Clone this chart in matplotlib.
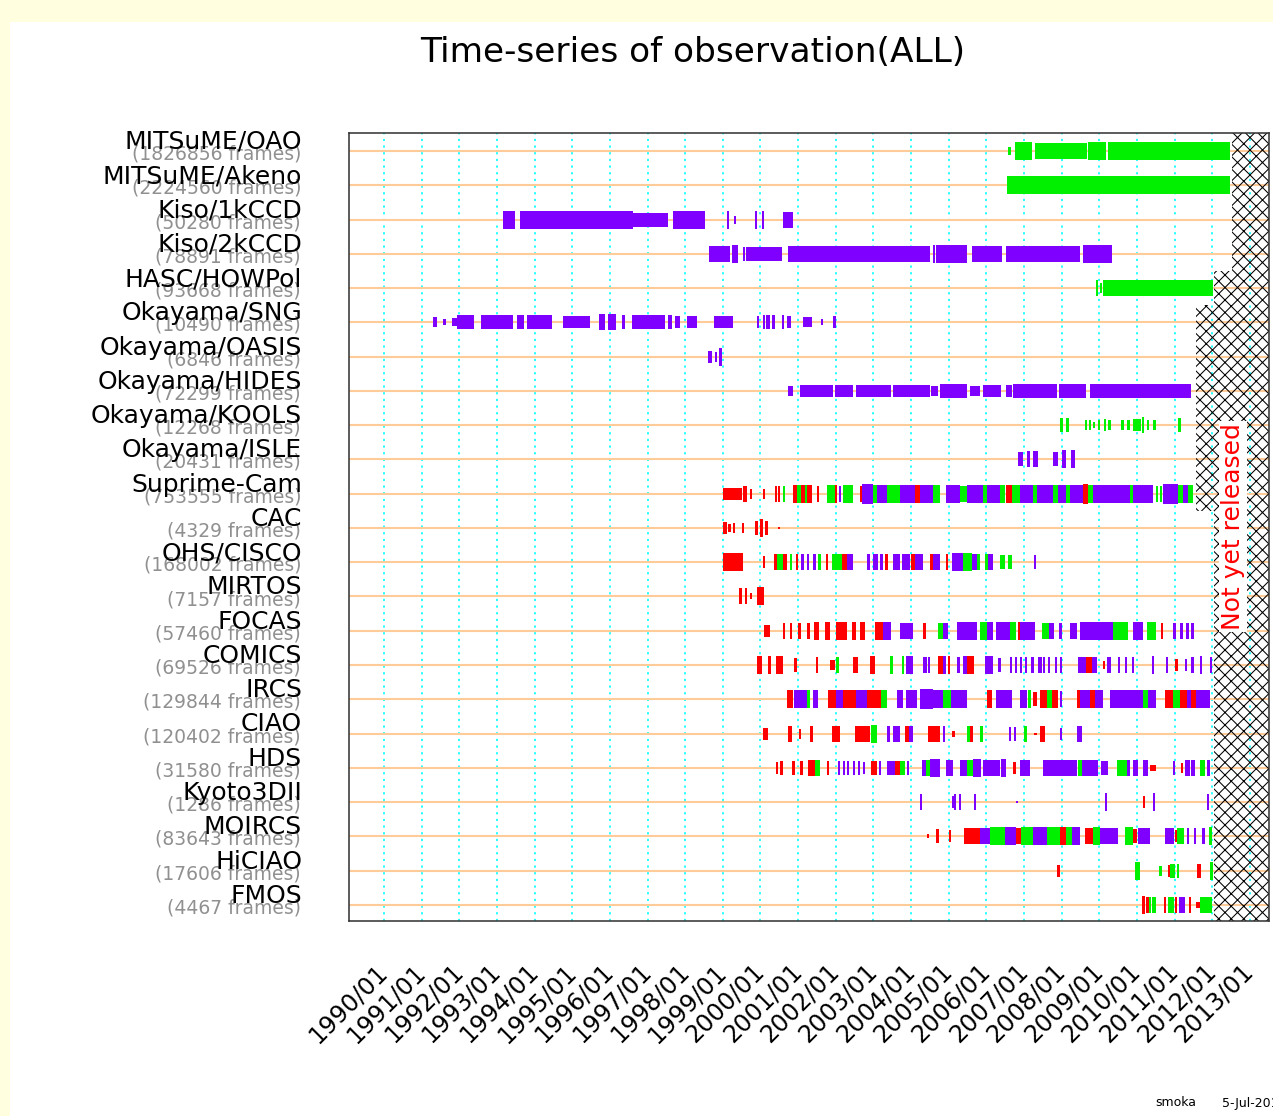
import matplotlib
matplotlib.use("Agg")
import matplotlib.pyplot as plt
import matplotlib.transforms as mtransforms
from matplotlib.patches import Rectangle

plt.rcParams['hatch.linewidth'] = 1.0

# instrument names (top to bottom) and frame counts
instruments = ['MITSuME/OAO', 'MITSuME/Akeno', 'Kiso/1kCCD', 'Kiso/2kCCD', 'HASC/HOWPol',
               'Okayama/SNG', 'Okayama/OASIS', 'Okayama/HIDES', 'Okayama/KOOLS', 'Okayama/ISLE',
               'Suprime-Cam', 'CAC', 'OHS/CISCO', 'MIRTOS', 'FOCAS', 'COMICS', 'IRCS', 'CIAO',
               'HDS', 'Kyoto3DII', 'MOIRCS', 'HiCIAO', 'FMOS']
frames = [1826856, 2224560, 50280, 78891, 93668, 10490, 6846, 72299, 12268, 20431,
          753555, 4329, 168002, 7157, 57460, 69526, 129844, 120402, 31580, 1286,
          83643, 17606, 4467]

# observation periods: (start year, end year, colour code, relative size 0-10)
mitsume_oao = [(2006.57, 2006.65, 'g', 4), (2006.76, 2007.21, 'g', 9), (2007.29, 2008.67, 'g', 8),
               (2008.70, 2009.18, 'g', 9), (2009.23, 2012.47, 'g', 9)]
mitsume_akeno = [(2006.55, 2012.47, 'g', 9)]
kiso_1k = [(1993.17, 1993.48, 'p', 9), (1993.61, 1996.62, 'p', 9), (1996.62, 1997.55, 'p', 7),
           (1997.67, 1998.53, 'p', 9), (1999.10, 1999.10, 'p', 9), (1999.30, 1999.30, 'p', 4),
           (1999.85, 1999.85, 'p', 9), (2000.03, 2000.08, 'p', 9), (2000.59, 2000.87, 'p', 8)]
kiso_2k = [(1998.64, 1999.19, 'p', 8), (1999.24, 1999.41, 'p', 9), (1999.53, 1999.53, 'p', 7),
           (1999.61, 2000.56, 'p', 7), (2000.74, 2001.47, 'p', 8), (2001.47, 2004.50, 'p', 8),
           (2004.58, 2004.58, 'p', 9), (2004.66, 2005.48, 'p', 9), (2005.61, 2006.41, 'p', 8),
           (2006.52, 2008.49, 'p', 8), (2008.56, 2009.34, 'p', 9)]
hasc_howpol = [(2008.91, 2008.96, 'g', 8), (2009.02, 2009.02, 'g', 5), (2009.11, 2012.03, 'g', 8)]
okayama_sng = [(1991.29, 1991.42, 'p', 5), (1991.58, 1991.58, 'p', 3), (1991.80, 1991.93, 'p', 4),
               (1991.93, 1992.39, 'p', 7), (1992.58, 1993.43, 'p', 7), (1993.52, 1993.72, 'p', 7),
               (1993.81, 1994.45, 'p', 7), (1994.75, 1995.47, 'p', 6), (1995.72, 1995.87, 'p', 8),
               (1995.96, 1996.16, 'p', 8), (1996.31, 1996.40, 'p', 7), (1996.59, 1997.47, 'p', 7),
               (1997.55, 1997.64, 'p', 7), (1997.73, 1997.86, 'p', 6), (1998.04, 1998.31, 'p', 6),
               (1998.77, 1999.28, 'p', 6), (1999.92, 1999.97, 'p', 6), (2000.07, 2000.07, 'p', 7),
               (2000.15, 2000.25, 'p', 7), (2000.30, 2000.39, 'p', 7), (2000.56, 2000.62, 'p', 7),
               (2000.70, 2000.80, 'p', 6), (2001.12, 2001.36, 'p', 5), (2001.60, 2001.66, 'p', 3),
               (2001.92, 2002.02, 'p', 6)]
okayama_oasis = [(1998.61, 1998.70, 'p', 6), (1998.79, 1998.79, 'p', 5), (1998.90, 1998.98, 'p', 9)]
okayama_hides = [(2000.74, 2000.87, 'p', 5), (2001.05, 2001.93, 'p', 6), (2001.98, 2002.46, 'p', 6),
                 (2002.55, 2003.48, 'p', 6), (2003.53, 2004.50, 'p', 6), (2004.54, 2004.72, 'p', 5),
                 (2004.77, 2005.48, 'p', 7), (2005.56, 2005.83, 'p', 5), (2005.90, 2006.40, 'p', 6),
                 (2006.52, 2006.67, 'p', 6), (2006.71, 2007.87, 'p', 7), (2007.94, 2008.66, 'p', 7),
                 (2008.75, 2011.45, 'p', 7)]
okayama_kools = [(2007.97, 2008.00, 'g', 7), (2008.13, 2008.16, 'g', 7), (2008.62, 2008.66, 'g', 5),
                 (2008.72, 2008.75, 'g', 5), (2008.84, 2008.88, 'g', 3), (2008.97, 2009.02, 'g', 5),
                 (2009.12, 2009.16, 'g', 6), (2009.24, 2009.30, 'g', 5), (2009.59, 2009.66, 'g', 5),
                 (2009.74, 2009.81, 'g', 5), (2009.90, 2010.10, 'g', 6), (2010.13, 2010.18, 'g', 8),
                 (2010.26, 2010.32, 'g', 5), (2010.42, 2010.51, 'g', 5), (2011.10, 2011.16, 'g', 7)]
okayama_isle = [(2006.85, 2006.98, 'p', 7), (2007.09, 2007.16, 'p', 8), (2007.23, 2007.38, 'p', 8),
                (2007.76, 2007.91, 'p', 7), (2008.02, 2008.13, 'p', 9), (2008.26, 2008.35, 'p', 9)]
suprime_cam = [(1999.00, 1999.50, 'r', 6), (1999.54, 1999.63, 'r', 8), (1999.72, 1999.72, 'r', 5),
               (2000.07, 2000.07, 'r', 5), (2000.39, 2000.39, 'r', 8), (2000.47, 2000.47, 'r', 8),
               (2000.59, 2000.59, 'g', 8), (2000.87, 2000.98, 'r', 9), (2000.98, 2001.09, 'g', 9),
               (2001.09, 2001.18, 'r', 9), (2001.18, 2001.24, 'g', 9), (2001.24, 2001.36, 'r', 9),
               (2001.49, 2001.49, 'r', 8), (2001.76, 2001.98, 'g', 9), (2001.98, 2002.04, 'r', 9),
               (2002.09, 2002.09, 'p', 8), (2002.20, 2002.46, 'g', 9), (2002.64, 2002.64, 'r', 8),
               (2002.69, 2003.00, 'p', 10), (2003.00, 2003.09, 'g', 9), (2003.09, 2003.35, 'p', 9),
               (2003.35, 2003.70, 'g', 9), (2003.70, 2004.10, 'p', 9), (2004.10, 2004.24, 'r', 9),
               (2004.24, 2004.59, 'p', 9), (2004.59, 2004.77, 'g', 9), (2004.94, 2005.30, 'p', 9),
               (2005.30, 2005.48, 'g', 8), (2005.48, 2005.92, 'p', 9), (2005.92, 2006.01, 'g', 9),
               (2006.01, 2006.36, 'p', 9), (2006.36, 2006.49, 'g', 9), (2006.53, 2006.67, 'r', 9),
               (2006.67, 2006.89, 'g', 9), (2006.89, 2007.25, 'p', 9), (2007.25, 2007.34, 'g', 9),
               (2007.34, 2007.78, 'p', 9), (2007.78, 2007.91, 'g', 9), (2007.91, 2008.13, 'p', 9),
               (2008.13, 2008.22, 'g', 9), (2008.22, 2008.57, 'p', 9), (2008.57, 2008.71, 'r', 10),
               (2008.71, 2008.84, 'g', 9), (2008.84, 2009.81, 'p', 9), (2009.81, 2009.90, 'g', 9),
               (2009.90, 2010.43, 'p', 9), (2010.50, 2010.50, 'g', 8), (2010.62, 2010.62, 'g', 8),
               (2010.70, 2011.10, 'p', 10), (2011.10, 2011.23, 'g', 9), (2011.23, 2011.36, 'p', 9),
               (2011.36, 2011.50, 'g', 9)]
cac = [(1999.00, 1999.10, 'r', 6), (1999.15, 1999.23, 'r', 4), (1999.28, 1999.32, 'r', 5),
       (1999.52, 1999.52, 'r', 5), (1999.85, 1999.94, 'r', 7), (1999.99, 2000.07, 'r', 9),
       (2000.12, 2000.21, 'r', 7), (2000.47, 2000.51, 'r', 1)]
ohs_cisco = [(1999.00, 1999.54, 'r', 9), (2000.07, 2000.13, 'r', 6), (2000.36, 2000.45, 'r', 8),
             (2000.45, 2000.59, 'g', 8), (2000.61, 2000.71, 'r', 8), (2000.78, 2000.78, 'g', 8),
             (2000.94, 2001.00, 'r', 8), (2001.09, 2001.09, 'p', 8), (2001.23, 2001.23, 'p', 8),
             (2001.40, 2001.47, 'p', 8), (2001.53, 2001.62, 'g', 8), (2001.74, 2001.80, 'r', 8),
             (2001.89, 2002.16, 'g', 8), (2002.16, 2002.29, 'r', 8), (2002.29, 2002.46, 'p', 8),
             (2002.82, 2002.91, 'p', 8), (2003.00, 2003.13, 'p', 8), (2003.17, 2003.26, 'p', 8),
             (2003.31, 2003.40, 'r', 8), (2003.53, 2003.70, 'p', 8), (2003.75, 2003.97, 'p', 8),
             (2004.01, 2004.10, 'r', 8), (2004.10, 2004.32, 'p', 8), (2004.50, 2004.59, 'r', 8),
             (2004.59, 2004.77, 'p', 8), (2004.94, 2004.99, 'r', 8), (2005.08, 2005.39, 'p', 9),
             (2005.39, 2005.61, 'g', 9), (2005.61, 2005.74, 'p', 8), (2005.74, 2005.83, 'g', 8),
             (2005.96, 2006.05, 'g', 8), (2006.05, 2006.18, 'p', 8), (2006.36, 2006.49, 'g', 7),
             (2006.58, 2006.67, 'g', 7), (2007.27, 2007.27, 'p', 7)]
mirtos = [(1999.44, 1999.50, 'r', 8), (1999.59, 1999.63, 'r', 8), (1999.72, 1999.72, 'r', 3),
          (1999.90, 2000.09, 'r', 9)]
focas = [(2000.09, 2000.25, 'r', 6), (2000.61, 2000.66, 'r', 8), (2000.78, 2000.84, 'r', 8),
         (2001.00, 2001.07, 'r', 8), (2001.23, 2001.32, 'r', 8), (2001.43, 2001.55, 'r', 9),
         (2001.71, 2001.86, 'r', 9), (2002.02, 2002.29, 'r', 9), (2002.42, 2002.55, 'r', 9),
         (2002.64, 2002.77, 'r', 9), (2003.04, 2003.26, 'r', 9), (2003.26, 2003.48, 'p', 9),
         (2003.70, 2004.06, 'p', 8), (2004.33, 2004.41, 'r', 8), (2004.72, 2004.86, 'g', 8),
         (2004.86, 2004.99, 'p', 8), (2005.21, 2005.74, 'p', 9), (2005.83, 2006.01, 'g', 9),
         (2006.01, 2006.18, 'p', 9), (2006.27, 2006.63, 'p', 9), (2006.63, 2006.80, 'g', 9),
         (2006.84, 2006.90, 'r', 9), (2006.90, 2007.30, 'p', 9), (2007.48, 2007.66, 'g', 8),
         (2007.66, 2007.79, 'p', 8), (2007.93, 2008.02, 'p', 8), (2008.22, 2008.40, 'p', 8),
         (2008.48, 2009.37, 'p', 9), (2009.37, 2009.77, 'g', 9), (2009.90, 2010.17, 'p', 9),
         (2010.26, 2010.52, 'g', 9), (2010.65, 2010.65, 'r', 8), (2010.96, 2011.05, 'p', 8),
         (2011.14, 2011.22, 'p', 8), (2011.30, 2011.38, 'p', 8), (2011.45, 2011.50, 'p', 8)]
comics = [(1999.92, 2000.03, 'r', 9), (2000.19, 2000.27, 'r', 9), (2000.41, 2000.61, 'r', 9),
          (2000.89, 2000.98, 'r', 7), (2001.47, 2001.54, 'r', 8), (2001.86, 2001.98, 'r', 5),
          (2002.02, 2002.02, 'g', 8), (2002.46, 2002.60, 'r', 8), (2002.92, 2003.04, 'r', 9),
          (2003.44, 2003.53, 'g', 9), (2003.75, 2003.82, 'g', 9), (2003.86, 2004.06, 'p', 9),
          (2004.31, 2004.31, 'p', 8), (2004.38, 2004.38, 'p', 8), (2004.46, 2004.46, 'p', 8),
          (2004.72, 2004.85, 'r', 9), (2004.85, 2004.94, 'p', 9), (2004.98, 2004.98, 'r', 9),
          (2005.21, 2005.30, 'p', 8), (2005.39, 2005.48, 'p', 9), (2005.48, 2005.66, 'r', 9),
          (2005.96, 2006.18, 'p', 9), (2006.32, 2006.40, 'p', 7), (2006.63, 2006.63, 'p', 8),
          (2006.76, 2006.76, 'p', 8), (2006.89, 2006.89, 'p', 8), (2007.02, 2007.02, 'p', 8),
          (2007.20, 2007.20, 'p', 8), (2007.38, 2007.47, 'p', 8), (2007.51, 2007.51, 'p', 8),
          (2007.65, 2007.65, 'p', 8), (2007.83, 2007.83, 'p', 8), (2007.96, 2007.96, 'p', 8),
          (2008.44, 2008.66, 'p', 8), (2008.66, 2008.80, 'r', 8), (2008.80, 2008.93, 'p', 8),
          (2009.11, 2009.11, 'r', 4), (2009.20, 2009.20, 'p', 8), (2009.27, 2009.27, 'p', 8),
          (2009.50, 2009.50, 'p', 8), (2009.68, 2009.68, 'p', 8), (2009.86, 2009.86, 'p', 8),
          (2010.40, 2010.46, 'p', 9), (2010.77, 2010.82, 'p', 8), (2011.01, 2011.09, 'r', 6),
          (2011.27, 2011.27, 'p', 6), (2011.45, 2011.45, 'p', 8), (2011.67, 2011.71, 'p', 9),
          (2011.94, 2011.98, 'p', 8)]
ircs = [(2000.70, 2000.87, 'r', 9), (2000.89, 2001.23, 'p', 9), (2001.25, 2001.30, 'g', 9),
        (2001.40, 2001.54, 'p', 9), (2001.80, 2002.02, 'r', 9), (2002.02, 2002.20, 'p', 9),
        (2002.20, 2002.55, 'r', 9), (2002.55, 2002.82, 'p', 9), (2002.82, 2003.20, 'r', 9),
        (2003.20, 2003.35, 'g', 9), (2003.62, 2003.79, 'p', 9), (2003.88, 2004.15, 'p', 9),
        (2004.24, 2004.59, 'p', 10), (2004.59, 2004.86, 'p', 9), (2004.86, 2005.07, 'g', 9),
        (2005.07, 2005.48, 'p', 9), (2006.01, 2006.14, 'r', 9), (2006.27, 2006.67, 'p', 9),
        (2006.89, 2007.07, 'p', 9), (2007.11, 2007.20, 'g', 9), (2007.25, 2007.34, 'r', 7),
        (2007.42, 2007.60, 'r', 9), (2007.60, 2007.75, 'g', 9), (2007.75, 2007.91, 'r', 9),
        (2007.96, 2007.96, 'p', 8), (2008.40, 2008.49, 'r', 9), (2008.49, 2008.75, 'p', 9),
        (2008.75, 2008.88, 'r', 9), (2008.88, 2009.11, 'p', 9), (2009.28, 2010.17, 'p', 9),
        (2010.17, 2010.30, 'g', 9), (2010.30, 2010.52, 'p', 9), (2010.74, 2010.96, 'r', 9),
        (2010.96, 2011.14, 'g', 9), (2011.14, 2011.32, 'r', 9), (2011.32, 2011.45, 'p', 9),
        (2011.45, 2011.58, 'r', 9), (2011.58, 2011.94, 'p', 9)]
ciao = [(2000.08, 2000.19, 'r', 6), (2000.74, 2000.83, 'r', 8), (2001.03, 2001.03, 'r', 5),
        (2001.32, 2001.40, 'r', 8), (2001.89, 2002.11, 'r', 8), (2002.51, 2002.90, 'r', 8),
        (2002.94, 2003.09, 'g', 9), (2003.35, 2003.44, 'p', 8), (2003.53, 2003.70, 'p', 8),
        (2003.84, 2003.95, 'r', 8), (2003.95, 2004.06, 'p', 8), (2004.46, 2004.77, 'r', 8),
        (2004.86, 2004.86, 'p', 8), (2005.08, 2005.17, 'r', 3), (2005.48, 2005.56, 'g', 8),
        (2005.56, 2005.65, 'r', 8), (2005.83, 2005.92, 'g', 8), (2006.61, 2006.61, 'p', 7),
        (2006.74, 2006.74, 'p', 7), (2007.00, 2007.09, 'g', 8), (2007.28, 2007.28, 'r', 1),
        (2007.42, 2007.56, 'r', 8), (2007.96, 2007.96, 'p', 6), (2008.40, 2008.53, 'p', 8)]
hds = [(2000.41, 2000.47, 'r', 6), (2000.52, 2000.61, 'r', 7), (2000.83, 2000.91, 'r', 7),
       (2001.05, 2001.14, 'r', 7), (2001.27, 2001.45, 'r', 8), (2001.45, 2001.58, 'g', 8),
       (2001.76, 2001.76, 'r', 7), (2002.07, 2002.07, 'p', 7), (2002.20, 2002.20, 'p', 7),
       (2002.29, 2002.29, 'p', 7), (2002.46, 2002.46, 'p', 7), (2002.60, 2002.60, 'p', 7),
       (2002.73, 2002.73, 'p', 6), (2002.94, 2003.09, 'r', 7), (2003.14, 2003.14, 'p', 7),
       (2003.35, 2003.57, 'p', 7), (2003.57, 2003.70, 'r', 7), (2003.70, 2003.84, 'g', 7),
       (2003.89, 2003.95, 'p', 7), (2004.28, 2004.40, 'p', 8), (2004.40, 2004.50, 'g', 8),
       (2004.50, 2004.77, 'p', 9), (2004.94, 2005.12, 'p', 8), (2005.30, 2005.48, 'p', 8),
       (2005.48, 2005.65, 'g', 8), (2005.65, 2005.87, 'p', 9), (2005.92, 2006.36, 'p', 8),
       (2006.40, 2006.52, 'p', 9), (2006.72, 2006.80, 'r', 6), (2006.89, 2007.16, 'p', 8),
       (2007.51, 2008.40, 'p', 8), (2008.44, 2008.53, 'g', 8), (2008.53, 2008.97, 'p', 8),
       (2009.06, 2009.24, 'p', 7), (2009.46, 2009.73, 'g', 8), (2009.73, 2009.81, 'p', 8),
       (2009.90, 2010.04, 'p', 8), (2010.17, 2010.30, 'p', 8), (2010.34, 2010.52, 'r', 3),
       (2010.96, 2010.96, 'p', 7), (2011.18, 2011.18, 'r', 5), (2011.27, 2011.41, 'p', 8),
       (2011.45, 2011.54, 'p', 8), (2011.67, 2011.80, 'g', 8), (2011.85, 2011.94, 'p', 8)]
kyoto3dii = [(2004.25, 2004.25, 'p', 8), (2005.08, 2005.08, 'p', 6), (2005.14, 2005.14, 'p', 8),
             (2005.28, 2005.28, 'p', 8), (2005.67, 2005.67, 'p', 8), (2006.78, 2006.78, 'p', 1),
             (2009.15, 2009.15, 'p', 9), (2010.17, 2010.17, 'r', 6), (2010.43, 2010.47, 'p', 9),
             (2011.85, 2011.90, 'p', 8)]
moircs = [(2004.42, 2004.42, 'r', 2), (2004.67, 2004.74, 'r', 7), (2005.02, 2005.07, 'r', 6),
          (2005.40, 2005.82, 'r', 8), (2005.82, 2006.09, 'p', 8), (2006.09, 2006.49, 'g', 9),
          (2006.49, 2006.80, 'p', 9), (2006.80, 2006.93, 'r', 8), (2006.93, 2007.24, 'g', 9),
          (2007.24, 2007.60, 'p', 9), (2007.60, 2007.96, 'g', 9), (2007.96, 2008.13, 'r', 9),
          (2008.13, 2008.27, 'g', 9), (2008.27, 2008.49, 'p', 9), (2008.62, 2008.84, 'r', 8),
          (2008.84, 2009.02, 'g', 9), (2009.02, 2009.51, 'p', 8), (2009.69, 2009.91, 'g', 9),
          (2009.91, 2010.00, 'r', 7), (2010.04, 2010.36, 'p', 8), (2010.76, 2010.98, 'p', 8),
          (2011.00, 2011.00, 'r', 6), (2011.07, 2011.24, 'g', 8), (2011.33, 2011.33, 'p', 8),
          (2011.51, 2011.51, 'p', 8), (2011.73, 2011.82, 'p', 8), (2011.91, 2012.00, 'g', 9)]
hiciao = [(2007.87, 2007.96, 'r', 6), (2009.96, 2010.07, 'g', 9), (2010.60, 2010.67, 'g', 5),
          (2010.84, 2010.89, 'r', 6), (2010.89, 2011.02, 'g', 7), (2011.07, 2011.07, 'g', 7),
          (2011.60, 2011.71, 'r', 7), (2011.94, 2012.03, 'g', 9)]
fmos = [(2010.13, 2010.22, 'r', 9), (2010.25, 2010.31, 'r', 8), (2010.31, 2010.36, 'g', 8),
        (2010.40, 2010.52, 'g', 8), (2010.71, 2010.78, 'r', 8), (2010.84, 2010.98, 'g', 8),
        (2011.02, 2011.02, 'r', 8), (2011.11, 2011.29, 'p', 8), (2011.38, 2011.38, 'r', 8),
        (2011.56, 2011.69, 'r', 3), (2011.69, 2012.00, 'g', 8)]

observations = [mitsume_oao, mitsume_akeno, kiso_1k, kiso_2k, hasc_howpol, okayama_sng,
                okayama_oasis, okayama_hides, okayama_kools, okayama_isle, suprime_cam, cac,
                ohs_cisco, mirtos, focas, comics, ircs, ciao, hds, kyoto3dii, moircs, hiciao, fmos]

# data after this date is not yet released
release_limit = [2012.52] * 4 + [2012.05] + [2011.56] * 6 + [2012.05] * 12

years = list(range(1990, 2014))
year_labels = ['%d/01' % y for y in years]

colors = {'p': '#8000ff', 'g': '#00f000', 'r': '#ff0000'}

W, H = 1273, 1116
fig = plt.figure(figsize=(W / 75, H / 75), dpi=75, facecolor='#ffffe0')
fig.add_artist(Rectangle((10 / W, 0), 1, 1 - 22 / H, transform=fig.transFigure,
                         facecolor='white', edgecolor='none', zorder=-10))

ax = fig.add_axes([349 / W, 1 - 921 / H, (1269 - 349) / W, (921 - 133) / H])
ax.set_xlim(1989.07, 2013.51)
ax.set_ylim(22.47, -0.525)
row_px = 34.27

for y in years:
    ax.axvline(y, color='#00ffff', lw=1.6, ls=(0, (1.3, 2.7)), zorder=1)
for i in range(len(instruments)):
    ax.axhline(i, color='#ffcc99', lw=2, zorder=1)

min_w = 0.055
for i, segs in enumerate(observations):
    for s, e, c, lv in segs:
        h = lv / row_px
        ax.bar(s, 2 * h, width=max(e - s, min_w), bottom=i - h, align='edge',
               color=colors[c], lw=0, zorder=3)

# not yet released area
n = len(instruments)
for i, lim in enumerate(release_limit):
    lo = i - 0.5 if i > 0 else -1.0
    hi = i + 0.5 if i < n - 1 else n
    ax.add_patch(Rectangle((lim, lo), 2014 - lim, hi - lo, facecolor='none',
                           edgecolor='black', hatch='xx', lw=0, zorder=2))
ax.text(2012.55, 10.95, 'Not yet released', rotation=90, color='red', fontsize=24,
        ha='center', va='center', zorder=5,
        bbox=dict(facecolor='white', edgecolor='none', pad=2))

# row labels
trans = mtransforms.blended_transform_factory(fig.transFigure, ax.transData)
for i, (name, f) in enumerate(zip(instruments, frames)):
    ax.text(301 / W, i + 0.25, '(%d frames)' % f, transform=trans, ha='right',
            va='baseline', fontsize=18, color='#909090', clip_on=False)
    ax.text(302 / W, i - 0.06, name, transform=trans, ha='right', va='baseline',
            fontsize=24, color='black', clip_on=False)

ax.set_xticks(years)
ax.set_xticklabels(year_labels, rotation=45, ha='right', va='center',
                   rotation_mode='anchor', fontsize=23)
ax.tick_params(axis='x', length=0, pad=45)
ax.set_yticks([])
for sp in ax.spines.values():
    sp.set_color('#333333')
    sp.set_linewidth(1.5)

fig.text(693 / W, 1 - 52 / H, 'Time-series of observation(ALL)', fontsize=33,
         ha='center', va='center')
fig.text(1155 / W, 1 - 1103 / H, 'smoka', fontsize=12, va='center')
fig.text(1222 / W, 1 - 1103 / H, '5-Jul-2012', fontsize=12, va='center')

fig.savefig('out.png', dpi=75, facecolor=fig.get_facecolor())
